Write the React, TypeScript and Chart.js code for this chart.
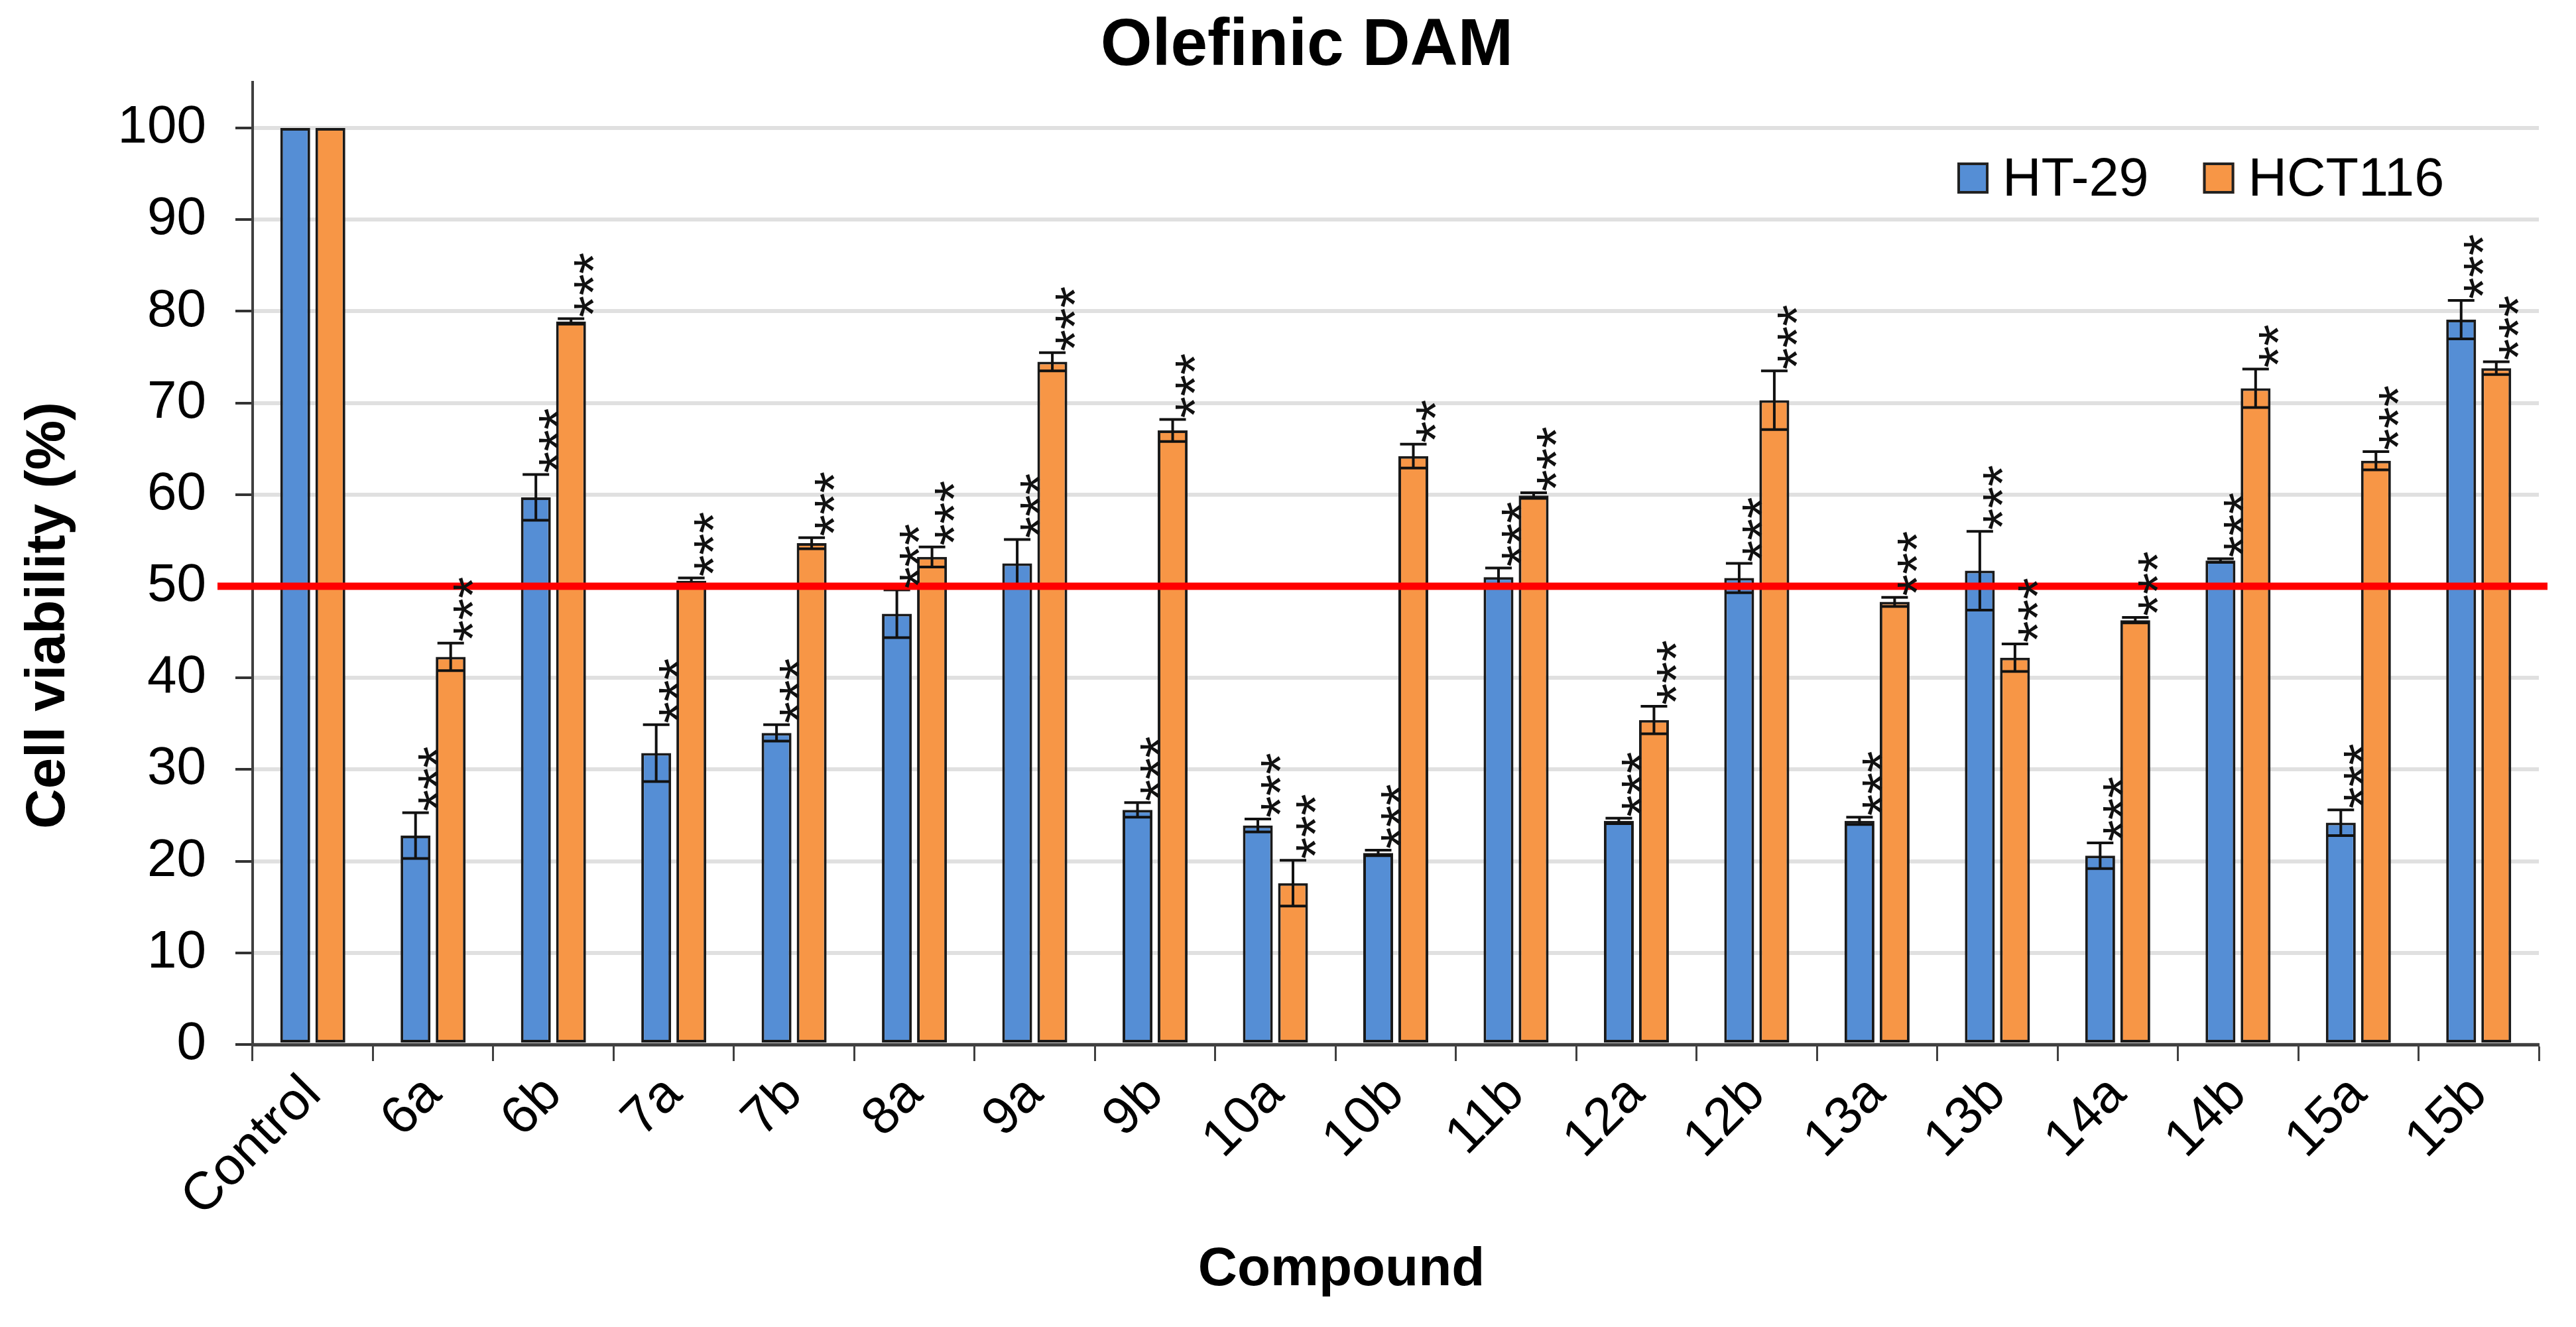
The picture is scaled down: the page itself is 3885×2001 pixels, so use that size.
import React, { useEffect, useRef } from 'react';
import { Chart, registerables } from 'chart.js';

Chart.register(...registerables);

const categories = ['Control', '6a', '6b', '7a', '7b', '8a', '9a', '9b', '10a', '10b', '11b', '12a', '12b', '13a', '13b', '14a', '14b', '15a', '15b'];
const ht29Values = [100, 22.8, 59.7, 31.8, 34.0, 47.0, 52.5, 25.6, 23.9, 20.9, 51.0, 24.4, 50.9, 24.4, 51.7, 20.6, 52.8, 24.2, 79.1];
const ht29Errors = [0, 2.5, 2.5, 3.1, 0.9, 2.6, 2.6, 0.8, 0.7, 0.3, 1.0, 0.3, 1.6, 0.4, 4.3, 1.4, 0.2, 1.4, 2.1];
const hct116Values = [100, 42.3, 78.9, 50.6, 54.7, 53.2, 74.5, 67.0, 17.6, 64.2, 59.9, 35.4, 70.3, 48.3, 42.2, 46.3, 71.6, 63.7, 73.8];
const hct116Errors = [0, 1.5, 0.3, 0.3, 0.6, 1.1, 1.0, 1.2, 2.5, 1.3, 0.3, 1.5, 3.2, 0.5, 1.5, 0.3, 2.1, 1.0, 0.7];
const ht29Sig = ['', '***', '***', '***', '***', '***', '***', '***', '***', '***', '***', '***', '***', '***', '***', '***', '***', '***', '***'];
const hct116Sig = ['', '***', '***', '***', '***', '***', '***', '***', '***', '**', '***', '***', '***', '***', '***', '***', '**', '***', '***'];
const yTicks = [0, 10, 20, 30, 40, 50, 60, 70, 80, 90, 100];
const threshold = 50;
const seriesLabels = ['HT-29', 'HCT116'];
const seriesColors = ['#558ED5', '#F79646'];

const errorsList = [ht29Errors, hct116Errors];
const sigList = [ht29Sig, hct116Sig];

const FONT = '"Liberation Sans", Arial, sans-serif';

const overlayPlugin = {
  id: 'overlay',
  afterDatasetsDraw(chart: any) {
    const { ctx, chartArea, scales } = chart;
    const y = scales.y;
    ctx.save();
    // error bars
    chart.data.datasets.forEach((ds: any, di: number) => {
      const meta = chart.getDatasetMeta(di);
      const errs = errorsList[di];
      meta.data.forEach((bar: any, i: number) => {
        const v = ds.data[i];
        const e = errs[i];
        if (!e) return;
        const top = y.getPixelForValue(v + e);
        const bot = y.getPixelForValue(v - e);
        const half = 20;
        ctx.strokeStyle = '#111';
        ctx.lineWidth = 4;
        ctx.beginPath();
        ctx.moveTo(bar.x, top);
        ctx.lineTo(bar.x, bot);
        ctx.moveTo(bar.x - half, top);
        ctx.lineTo(bar.x + half, top);
        ctx.moveTo(bar.x - half, bot);
        ctx.lineTo(bar.x + half, bot);
        ctx.stroke();
      });
    });
    // threshold line
    const ty = y.getPixelForValue(threshold);
    ctx.strokeStyle = '#FF0000';
    ctx.lineWidth = 11;
    ctx.beginPath();
    ctx.moveTo(chartArea.left - 53, ty);
    ctx.lineTo(chartArea.right + 13, ty);
    ctx.stroke();
    // significance stars
    const fs = 84;
    ctx.fillStyle = '#111';
    ctx.font = `${fs}px ${FONT}`;
    ctx.textAlign = 'left';
    ctx.textBaseline = 'alphabetic';
    chart.data.datasets.forEach((ds: any, di: number) => {
      const meta = chart.getDatasetMeta(di);
      const errs = errorsList[di];
      const sig = sigList[di];
      meta.data.forEach((bar: any, i: number) => {
        if (!sig[i]) return;
        const top = y.getPixelForValue(ds.data[i] + errs[i]);
        const cx = bar.x + 14;
        ctx.save();
        ctx.translate(cx + 0.58 * fs, top - 2);
        ctx.rotate(-Math.PI / 2);
        ctx.fillText(sig[i], 0, 0);
        ctx.restore();
      });
    });
    ctx.restore();
  },
  afterDraw(chart: any) {
    const { ctx } = chart;
    ctx.save();
    ctx.fillStyle = '#000';
    // title
    ctx.font = `bold 100px ${FONT}`;
    ctx.textAlign = 'center';
    ctx.textBaseline = 'alphabetic';
    ctx.fillText('Olefinic DAM', 1971, 98);
    // x title
    ctx.font = `bold 82px ${FONT}`;
    ctx.fillText('Compound', 2023, 1938);
    // y title
    ctx.save();
    ctx.font = `bold 84px ${FONT}`;
    ctx.translate(97, 928);
    ctx.rotate(-Math.PI / 2);
    ctx.fillText('Cell viability (%)', 0, 0);
    ctx.restore();
    // legend
    ctx.font = `81px ${FONT}`;
    ctx.textAlign = 'left';
    let lx = 2952;
    const boxTop = 245;
    const box = 47;
    chart.data.datasets.forEach((ds: any) => {
      ctx.fillStyle = ds.backgroundColor;
      ctx.fillRect(lx, boxTop, box, box);
      ctx.strokeStyle = '#222';
      ctx.lineWidth = 4;
      ctx.strokeRect(lx + 2, boxTop + 2, box - 4, box - 4);
      ctx.fillStyle = '#000';
      ctx.fillText(ds.label, lx + box + 21, 295);
      const w = ctx.measureText(ds.label).width;
      lx = lx + box + 21 + w + 82;
    });
    ctx.restore();
  },
};

export default function App() {
  const canvasRef = useRef<HTMLCanvasElement | null>(null);

  useEffect(() => {
    if (!canvasRef.current) return;
    const chart = new Chart(canvasRef.current, {
      type: 'bar',
      data: {
        labels: categories,
        datasets: [
          {
            label: seriesLabels[0],
            data: ht29Values,
            backgroundColor: seriesColors[0],
            borderColor: '#1a1a1a',
            borderWidth: 4,
            borderSkipped: false,
            categoryPercentage: 0.584,
            barPercentage: 0.85,
          },
          {
            label: seriesLabels[1],
            data: hct116Values,
            backgroundColor: seriesColors[1],
            borderColor: '#1a1a1a',
            borderWidth: 4,
            borderSkipped: false,
            categoryPercentage: 0.584,
            barPercentage: 0.85,
          },
        ],
      },
      options: {
        animation: false,
        responsive: true,
        maintainAspectRatio: false,
        devicePixelRatio: 1,
        layout: { padding: { top: 124, right: 56, bottom: 0, left: 0 } },
        plugins: {
          legend: { display: false },
          title: { display: false },
          tooltip: { enabled: false },
        },
        scales: {
          x: {
            grid: {
              display: true,
              drawOnChartArea: false,
              offset: true,
              tickLength: 25,
              tickColor: '#404040',
              tickWidth: 3,
            },
            border: { color: '#404040', width: 5 },
            ticks: {
              color: '#000',
              font: { family: FONT, size: 80 },
              minRotation: 45,
              maxRotation: 45,
              padding: 4,
              autoSkip: false,
            },
            afterFit(scale: any) {
              scale.height = 426;
            },
          },
          y: {
            min: 0,
            max: 105,
            grid: {
              color: '#e0e0e0',
              lineWidth: 6,
              tickLength: 26,
              tickColor: '#333',
              tickWidth: 4,
            },
            border: { color: '#404040', width: 4 },
            ticks: {
              color: '#000',
              font: { family: FONT, size: 80 },
              padding: 44,
            },
            afterBuildTicks(scale: any) {
              scale.ticks = yTicks.map((v) => ({ value: v }));
            },
            afterFit(scale: any) {
              scale.width = 381;
            },
          },
        },
      },
      plugins: [overlayPlugin],
    });
    return () => chart.destroy();
  }, []);

  return (
    <div style={{ position: 'fixed', left: 0, top: 0, width: '3885px', height: '2001px', background: '#fff' }}>
      <canvas ref={canvasRef} />
    </div>
  );
}
